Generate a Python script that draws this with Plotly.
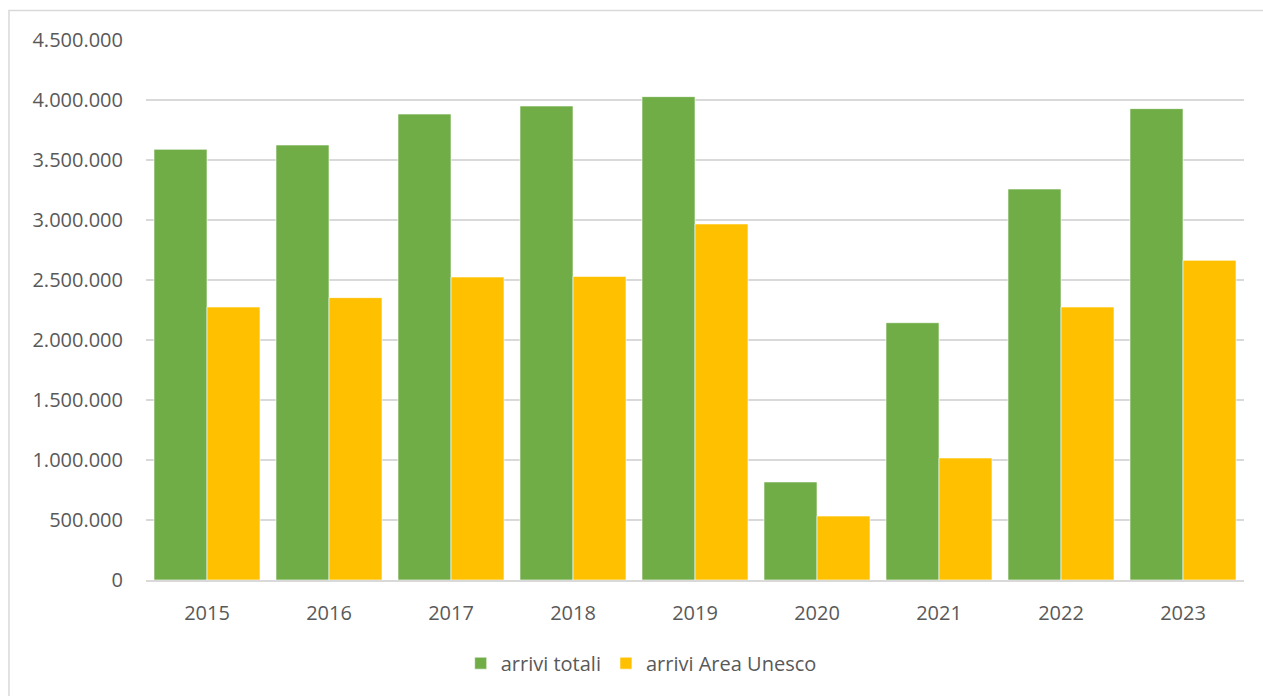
import plotly.graph_objects as go

anni = ["2015", "2016", "2017", "2018", "2019", "2020", "2021", "2022", "2023"]
arrivi_totali = [3589000, 3625000, 3883000, 3950000, 4028000, 817000, 2144000, 3258000, 3928000]
arrivi_unesco = [2275000, 2353000, 2525000, 2530000, 2967000, 533000, 1017000, 2275000, 2664000]
y_ticks = [0, 500000, 1000000, 1500000, 2000000, 2500000, 3000000, 3500000, 4000000, 4500000]

testo = "#595959"
griglia = "#D9D9D9"

fig = go.Figure()
fig.add_trace(go.Bar(x=anni, y=arrivi_totali, name="arrivi totali",
                     marker=dict(color="#70AD47", line=dict(color="white", width=0.6))))
fig.add_trace(go.Bar(x=anni, y=arrivi_unesco, name="arrivi Area Unesco",
                     marker=dict(color="#FFC000", line=dict(color="white", width=0.6))))

fig.update_layout(
    width=1263, height=696,
    margin=dict(l=146, r=19, t=40, b=116),
    paper_bgcolor="white",
    plot_bgcolor="white",
    separators=",.",
    font=dict(family="Open Sans", size=20, color=testo),
    barmode="group",
    bargap=0.131,
    bargroupgap=0,
    xaxis=dict(
        showgrid=False,
        showline=True, linecolor=griglia, linewidth=1.5,
        ticks="", ticklabelstandoff=14,
    ),
    yaxis=dict(
        range=[0, 4500000],
        tickvals=y_ticks,
        tickformat=",d",
        gridcolor=griglia, gridwidth=1.5,
        zeroline=False,
        showline=False,
        ticks="", ticklabelstandoff=22,
    ),
    legend=dict(
        orientation="h",
        x=0.451, xanchor="center",
        y=-0.154, yanchor="middle",
        font=dict(size=20, color=testo),
        itemwidth=30,
    ),
    shapes=[dict(
        type="rect", xref="paper", yref="paper",
        x0=-0.1248, x1=1.05, y0=-0.23, y1=1.0546,
        line=dict(color=griglia, width=1.5), fillcolor="rgba(0,0,0,0)",
        layer="below",
    )],
)

fig.write_html("out.html", config={"displayModeBar": False},
               post_script="document.body.style.margin='0';")
